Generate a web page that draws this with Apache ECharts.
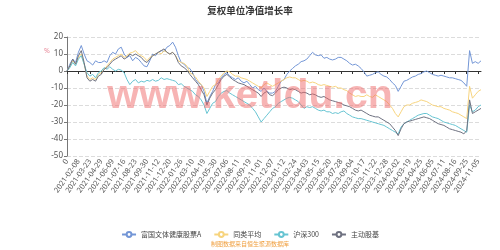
<!DOCTYPE html>
<html><head><meta charset="utf-8">
<script src="https://cdn.jsdelivr.net/npm/echarts@6/dist/echarts.min.js"></script>
<style>html,body{margin:0;padding:0;background:#fff}#c{width:500px;height:250px}</style>
</head><body><div id="c"></div>
<script>
var titleText = '复权单位净值增长率';
var seriesNames = ['富国文体健康股票A', '同类平均', '沪深300', '主动股基'];
var sourceText = '制图数据来自恒生聚源数据库';
var watermarkText = 'www.ketldu.cn';
var yTicks = {min: -50, max: 20, interval: 10};

var categories = [
 '0','2021-01-12','2021-01-20','2021-01-28',
 '2021-02-08','2021-02-19','2021-03-03','2021-03-12',
 '2021-03-23','2021-03-31','2021-04-12','2021-04-20',
 '2021-04-29','2021-05-13','2021-05-21','2021-05-31',
 '2021-06-09','2021-06-18','2021-06-28','2021-07-07',
 '2021-07-16','2021-07-26','2021-08-03','2021-08-12',
 '2021-08-23','2021-08-31','2021-09-08','2021-09-16',
 '2021-09-30','2021-10-19','2021-10-27','2021-11-04',
 '2021-11-12','2021-11-22','2021-11-30','2021-12-09',
 '2021-12-20','2021-12-28','2022-01-07','2022-01-17',
 '2022-01-26','2022-02-10','2022-02-18','2022-03-01',
 '2022-03-10','2022-03-18','2022-03-28','2022-04-08',
 '2022-04-19','2022-04-27','2022-05-10','2022-05-19',
 '2022-05-30','2022-06-09','2022-06-17','2022-06-27',
 '2022-07-06','2022-07-14','2022-07-22','2022-08-01',
 '2022-08-11','2022-08-19','2022-08-29','2022-09-06',
 '2022-09-19','2022-09-27','2022-10-14','2022-10-24',
 '2022-11-01','2022-11-09','2022-11-17','2022-11-25',
 '2022-12-07','2022-12-15','2022-12-23','2023-01-03',
 '2023-01-12','2023-01-20','2023-02-07','2023-02-15',
 '2023-02-24','2023-03-06','2023-03-14','2023-03-22',
 '2023-04-03','2023-04-12','2023-04-20','2023-05-04',
 '2023-05-15','2023-05-23','2023-05-31','2023-06-08',
 '2023-06-20','2023-06-30','2023-07-10','2023-07-18',
 '2023-07-28','2023-08-07','2023-08-15','2023-08-23',
 '2023-09-04','2023-09-12','2023-09-20','2023-10-09',
 '2023-10-17','2023-10-25','2023-11-02','2023-11-10',
 '2023-11-22','2023-11-30','2023-12-08','2023-12-18',
 '2023-12-28','2024-01-08','2024-01-16','2024-01-24',
 '2024-02-02','2024-02-08','2024-02-26','2024-03-07',
 '2024-03-19','2024-03-27','2024-04-08','2024-04-16',
 '2024-04-25','2024-05-08','2024-05-16','2024-05-24',
 '2024-06-05','2024-06-14','2024-06-24','2024-07-02',
 '2024-07-11','2024-07-19','2024-07-29','2024-08-06',
 '2024-08-16','2024-08-26','2024-09-03','2024-09-11',
 '2024-09-25','2024-10-08','2024-10-17','2024-10-28',
 '2024-11-05','2024-11-12'
];

var fundValues = [
 0,4,7,5, 11,15,10,6, 5,3.5,6,5, 5,6,5,9, 11,10,13,14, 10,8,9,6, 8,7,5,3, 2.5,6,10,9,
 11,12,11.5,14, 15,17,14,9, 5,4,2,1.5, -1,-5,-7,-8, -12,-19,-15,-12, -8,-7,-4,-2,
 -1,-3,-4,-5, -4,-6,-7,-6, -8,-10,-9,-11, -12,-10,-12,-13, -13,-12,-9,-6, -5,-2,0,1.5,
 3,4,5.5,6, 7,9,11,9.5, 9,9.5,7.5,8, 7,6.5,7,8, 8,7,6,4.5, 3.5,4,3,1.5,
 -0.5,-3,-2.5,-2, -1,-0.5,-2,-3, -3.5,-5,-7,-8.5, -12,-9,-6,-5.5, -4.5,-3.5,-3,-2,
 -1.5,-0.5,0,-1, -2,-2.5,-3,-2.5, -3,-3.5,-4,-4, -4.5,-5,-5.5,-7, -9,12,4.5,5.5, 4.5,6
];
var peerValues = [
 0,3,6,4, 8,10,4,-3, -5,-4,-5,-2, -1,1,3,5, 7,8,9,10, 8,9,10.5,11, 12,10,9,8, 6,8,9,10,
 11,10,12,11, 10,11,9,6, 5,4.5,3,-1, -2,-3.5,-6,-8, -10,-15,-12,-9, -8,-5,-3,-1,
 0,-0.5,-2,-3, -3,-4,-4.5,-5, -6,-7,-8,-9, -10,-8,-7,-8, -9,-8,-7,-6, -5,-4,-3.5,-4,
 -4,-5,-6,-5.5, -6,-7,-6.5,-7, -8,-8.5,-8,-8.5, -9,-9.5,-9,-10, -10,-11,-11.5,-13,
 -14,-15,-14.5,-15, -15,-14,-15,-15.5, -14,-15,-16,-17, -18,-20,-22,-25, -27,-24,-21,-20,
 -20,-19,-18.5,-18, -17,-17.5,-18,-19, -20,-20.5,-21,-21, -22,-22.5,-23,-24, -24.5,-25,-26,-27,
 -28,-9,-16,-14, -12,-11
];
var hs300Values = [
 0,2,5,3, 7,9,4,-1, -3,-2,-4,-1, 0,2,1,2.5, 1,0,1,0.5, -1,-5,-8,-6, -5,-7,-6,-6.5,
 -5.5,-6,-5,-6, -5.5,-4,-5,-4.5, -5,-5.5,-6,-8, -7.5,-9,-10,-11, -12,-14,-15,-17,
 -20,-25,-22,-19, -18,-15,-13,-12, -11.5,-13,-14,-15, -16,-17,-18,-19, -20,-22,-24,-27,
 -30,-28,-26,-24, -22,-21,-19,-18, -17,-16,-15.5,-16, -17,-18,-20,-22, -21,-21.5,-21,-22,
 -23,-23.5,-23,-24, -24,-25,-24.5,-25, -24,-23.5,-25,-26, -27,-27.5,-28,-28, -28.5,-29,-29.5,-30,
 -30.5,-31,-31.5,-32, -33,-34,-35,-36, -37,-33,-31,-30, -29,-28,-27,-26, -25.5,-25,-25,-26,
 -27,-27.5,-28,-29, -30,-30.5,-31,-31.5, -32,-33,-34,-35, -36,-20,-24,-23, -21,-20
];
var activeValues = [
 0,3,7,4, 9,12,5,-4, -6,-5,-6,-3, -2,1,2,4, 6,7,8,9, 7,8,10,9, 10,9,8,6, 5,7,9,10,
 11,12,13,11, 10,11,9,5, 3,2,0.5,-2, -4,-6,-8,-11, -14,-20,-16,-13, -11,-8,-5,-3,
 -2,-3.5,-5,-6, -7,-7.5,-8,-9, -10,-11,-12,-13, -15,-13,-12,-14, -14.5,-13,-11,-10,
 -9.5,-10,-11,-10.5, -11,-12,-13,-12.5, -13,-14,-13.5,-14, -15,-15.5,-15,-16, -17,-17.5,-18,-18.5,
 -19,-20,-20.5,-21, -22,-23,-23.5,-23, -24,-25,-26,-26.5, -27,-27,-28,-29, -30,-31,-33,-35,
 -38,-34,-31,-30, -29.5,-29,-28.5,-28, -27.5,-27,-27.5,-28, -29,-30,-31,-31.5, -32,-33,-34,-34.5,
 -35,-35.5,-36,-37, -35,-17,-25,-24, -23,-22
];

var colors = ['#7396d6', '#f7d47e', '#67c4d2', '#6e7180'];
var seriesData = [fundValues, peerValues, hs300Values, activeValues];

var chart = echarts.init(document.getElementById('c'), null, {renderer: 'canvas'});
var font = 'Noto Sans, Noto Sans CJK SC, sans-serif';
chart.setOption({
  animation: false,
  color: colors,
  textStyle: {fontFamily: font},
  title: {
    text: titleText, left: 'center', top: 1,
    textStyle: {fontSize: 9.5, fontWeight: 'bold', color: '#333', fontFamily: 'Noto Sans CJK SC'}
  },
  legend: {
    data: seriesNames, left: 'center', top: 226,
    itemWidth: 14, itemHeight: 6, itemGap: 12,
    textStyle: {fontSize: 7, color: '#444', fontFamily: 'Noto Sans CJK SC'}
  },
  grid: {left: 67, right: 19, top: 37, bottom: 94, containLabel: false},
  xAxis: [{
    type: 'category', data: categories, boundaryGap: false, position: 'bottom',
    axisLine: {show: false, onZero: false}, axisTick: {show: false},
    axisLabel: {interval: 3, rotate: 55, fontSize: 7.5, color: '#555', margin: 4}
  }, {
    type: 'category', data: categories, boundaryGap: false, position: 'top',
    axisLine: {show: true, onZero: true, lineStyle: {color: '#333', width: 1}},
    axisTick: {show: true, inside: true, interval: 3, length: 3, lineStyle: {color: '#333'}},
    axisLabel: {show: false}, splitLine: {show: false}
  }],
  yAxis: {
    type: 'value', min: yTicks.min, max: yTicks.max, interval: yTicks.interval,
    axisLine: {show: true, lineStyle: {color: '#777'}},
    axisTick: {show: true, length: 3, lineStyle: {color: '#777'}},
    axisLabel: {fontSize: 8, color: '#555', margin: 4},
    splitLine: {show: true, lineStyle: {type: 'dashed', color: '#dcdcdc'}}
  },
  series: seriesNames.map(function (n, k) {
    return {
      name: n, type: 'line', xAxisIndex: 0, data: seriesData[k],
      symbol: 'emptyCircle', symbolSize: 5, showSymbol: false,
      lineStyle: {width: 1, color: colors[k]}, itemStyle: {color: colors[k]},
      z: 2 + k
    };
  }),
  graphic: [
    {type: 'text', left: 44, top: 48, z: 100,
     style: {text: '%', fontSize: 7, fill: '#e88a9a', fontFamily: font}},
    {type: 'text', left: 'center', top: 76, z: 100,
     style: {text: watermarkText, fontSize: 41, fontWeight: 'bold', fill: 'rgba(240,105,105,0.5)', fontFamily: 'Liberation Sans, Arial, sans-serif'}},
    {type: 'text', left: 'center', top: 241, z: 100,
     style: {text: sourceText, fontSize: 6, fill: '#f0a040', fontFamily: 'Noto Sans CJK SC'}}
  ]
});
</script></body></html>
